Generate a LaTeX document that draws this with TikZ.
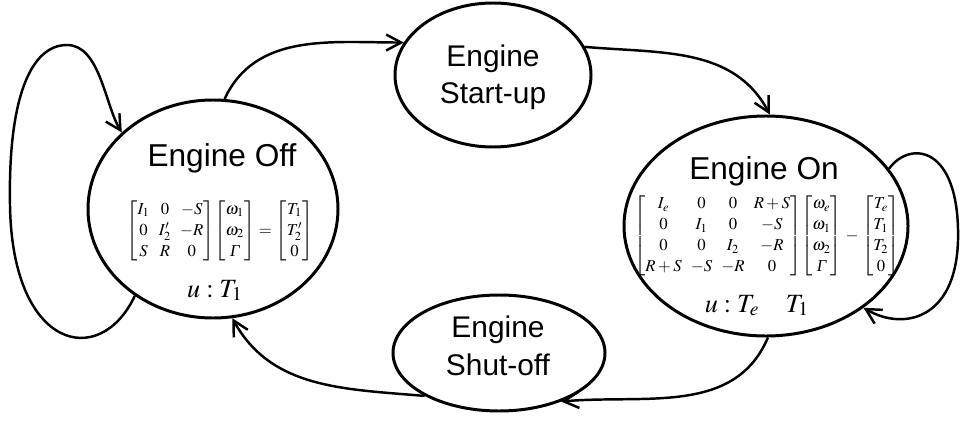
\documentclass[tikz,border=0pt]{standalone}
\usepackage{amsmath}
\usepackage{mathptmx}
\usepackage[no-math]{fontspec}
\setsansfont{Liberation Sans}
\newfontfamily\libserif{Liberation Serif}
\usetikzlibrary{shapes.geometric, arrows.meta}

% italic Gamma for the torque vectors
\newcommand{\Gam}{\text{\libserif\itshape Γ}}

\tikzset{
  phase/.style={ellipse, draw=black, line width=1.7pt, fill=white, inner sep=0pt},
  title/.style={font=\sffamily\fontsize{18}{22}\selectfont, align=center},
  subtitle/.style={font=\sffamily\fontsize{17}{21.5}\selectfont, align=center},
  eqn/.style={font=\fontsize{9.5}{12}\selectfont\setlength{\arraycolsep}{2.6pt}},
  input/.style={font=\fontsize{15}{18}\selectfont},
  link/.style={line width=1.4pt, -{Straight Barb[length=3mm, width=3.2mm]}},
}

\begin{document}
\begin{tikzpicture}[x=0.2mm, y=0.2mm]
  \useasboundingbox (0,0) rectangle (960,-428);

  % phases
  \node[phase, minimum width=50mm, minimum height=43.6mm] (off) at (213,-209) {};
  \node[phase, minimum width=39.2mm, minimum height=28.8mm] (startup) at (493,-75) {};
  \node[phase, minimum width=56.8mm, minimum height=44mm] (on) at (766,-226) {};
  \node[phase, minimum width=42.4mm, minimum height=23.2mm] (shutoff) at (499,-353) {};

  % engine off: two inertias
  \node[title, anchor=base] (offtitle) at (222,-167) {Engine Off};
  \node[eqn] (offeq) at (220,-231) {$
    \begin{bmatrix} I_1 & 0 & -S\\ 0 & I_2' & -R\\ S & R & 0 \end{bmatrix}\!
    \begin{bmatrix} \omega_1\\ \omega_2\\ \Gam \end{bmatrix}
    \,{=}\,
    \begin{bmatrix} T_1\\ T_2'\\ 0 \end{bmatrix}$};
  \node[input, anchor=base] (offin) at (215,-297) {$u:T_1$};

  % engine on: engine inertia added
  \node[title, anchor=base] (ontitle) at (764,-180) {Engine On};
  \node[eqn] (oneq) at (767,-236) {$
    \begin{bmatrix} I_e & 0 & 0 & R+S\\ 0 & I_1 & 0 & -S\\ 0 & 0 & I_2 & -R\\ R+S & -S & -R & 0 \end{bmatrix}\!
    \begin{bmatrix} \omega_e\\ \omega_1\\ \omega_2\\ \Gam \end{bmatrix}
    \,{-}\,
    \begin{bmatrix} T_e\\ T_1\\ T_2\\ 0 \end{bmatrix}$};
  \node[input, anchor=base] (onin) at (757,-312) {$u:T_e\quad T_1$};

  \node[subtitle, anchor=base] (starttitle) at (493,-104) {Engine\\Start-up};
  \node[subtitle, anchor=base] (shuttitle) at (498,-375) {Engine\\Shut-off};

  % transitions
  \draw[link] (off.84) to[out=65, in=180] (startup.160);
  \draw[link] (startup.17) to[out=-5, in=118] (on.88);
  \draw[link] (on.-89) to[out=247, in=5] (shutoff.-38);
  \draw[link] (shutoff.210) to[out=175, in=-61] (off.-80);

  % staying in the same phase
  \draw[link] (off.228) .. controls (100,-370) and (12,-350) .. (10,-205)
    .. controls (8,-100) and (30,-45) .. (67,-45)
    .. controls (100,-45) and (105,-105) .. (off.140);
  \draw[link] (on.25) .. controls (910,-140) and (960,-145) .. (958,-240)
    .. controls (956,-320) and (903,-331) .. (on.-40);
\end{tikzpicture}
\end{document}
